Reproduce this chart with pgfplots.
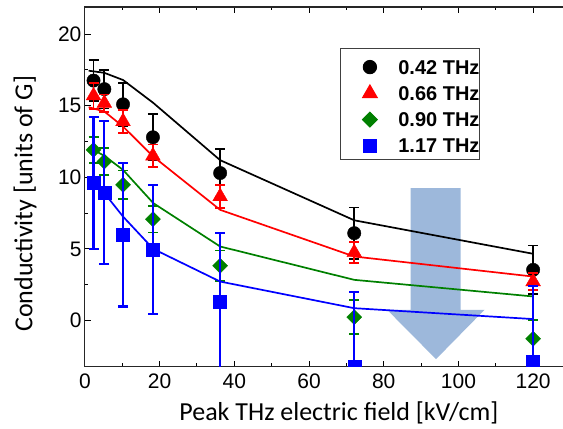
\documentclass[border=0pt]{standalone}
\usepackage{fontspec}
\setmainfont{Liberation Sans}
\newfontfamily\labelfont{Carlito}
\usepackage{pgfplots}
\usepackage{pgfplotstable}
\pgfplotsset{compat=1.18}
\usetikzlibrary{calc}
\definecolor{arrowblue}{HTML}{9DB8DB}
\definecolor{dgreen}{HTML}{008000}

% measured points: x, y, error
\pgfplotstableread{
x y e
2.3 16.76 1.45
5.2 16.16 1.35
10.2 15.10 1.50
18.2 12.80 1.60
36.2 10.30 1.70
72.1 6.10 1.80
120 3.54 1.70
}\dA
\pgfplotstableread{
x y e
2.3 15.70 0.90
5.2 15.18 0.60
10.2 13.90 0.80
18.2 11.50 0.80
36.2 8.66 0.80
72.1 4.75 0.75
120 2.72 0.60
}\dB
\pgfplotstableread{
x y e
2.3 11.92 0.90
5.2 11.10 0.93
10.2 9.48 1.00
18.2 7.08 0.93
36.2 3.82 1.07
72.1 0.24 1.20
120 -1.28 1.30
}\dC
\pgfplotstableread{
x y e
2.3 9.60 4.60
5.2 8.94 5.00
10.2 5.98 5.00
18.2 4.98 4.50
36.2 1.33 4.80
72.1 -3.20 5.20
120 -2.90 5.30
}\dD

% model curves
\pgfplotstableread{
x y
1.0 17.45
5.2 17.30
10.2 16.80
18.3 15.20
36.2 11.20
72.1 7.00
120 4.66
}\fA
\pgfplotstableread{
x y
1.0 14.90
5.2 14.60
10.2 13.55
18.3 11.45
36.2 7.73
72.1 4.47
120 3.07
}\fB
\pgfplotstableread{
x y
1.0 12.10
5.2 11.50
10.2 10.52
18.3 8.20
36.2 5.17
72.1 2.84
120 1.68
}\fC
\pgfplotstableread{
x y
2.3 9.55
5.2 8.90
10.2 7.26
18.3 5.00
36.2 2.72
72.1 0.86
120 0.10
}\fD

\begin{document}
\begin{tikzpicture}
\begin{axis}[
  name=ax, scale only axis, width=508.3bp, height=360bp,
  xmin=0, xmax=136, ymin=-3.23, ymax=21.9,
  xtick={0,20,...,120}, ytick={0,5,...,20},
  minor x tick num=1, minor y tick num=1,
  tick align=inside, xtick pos=both, ytick pos=left,
  major tick length=6bp, minor tick length=3.5bp,
  every tick/.style={black, line width=1bp},
  axis line style={line width=1.1bp, black!85},
  /pgf/number format/assume math mode=true,
  tick label style={font=\fontsize{21bp}{25bp}\selectfont},
  xticklabel style={yshift=-4bp},
  xlabel={Peak THz electric field [kV/cm]},
  ylabel={Conductivity [units of G]},
  label style={font=\labelfont\fontsize{26bp}{30bp}\selectfont},
  xlabel style={at={(rel axis cs:0.5,-0.149)}, anchor=base},
  ylabel style={at={(rel axis cs:-0.1033,0.4528)}, anchor=base},
  clip marker paths=true,
  legend style={at={(axis cs:68.3,19.06)}, anchor=north west,
    draw=black!75, line width=0.9bp, fill=white,
    inner xsep=0bp, inner ysep=6.5bp, row sep=6.3bp, column sep=21bp,
    font=\bfseries\fontsize{20bp}{24bp}\selectfont,
    cells={anchor=base west},
    nodes={inner sep=0bp, text height=19.5bp, text depth=0bp}},
  legend image code/.code={\path (0bp,0bp) (36bp,0bp);
    \draw[#1] plot coordinates {(29bp,7bp)};},
]
\fill[arrowblue] (axis cs:87.2,9.25) -- (axis cs:100.6,9.25) -- (axis cs:100.6,0.75)
  -- (axis cs:107.0,0.75) -- (axis cs:94.0,-2.7) -- (axis cs:80.9,0.75)
  -- (axis cs:87.2,0.75) -- cycle;

\addplot[black, line width=1.7bp, forget plot] table {\fA};
\addplot[black, only marks, mark=*, mark size=6.7bp,
  error bars/.cd, y dir=both, y explicit,
  error bar style={line width=1.8bp},
  error mark options={rotate=90, mark size=5bp, line width=1.8bp}]
  table[x=x, y=y, y error=e] {\dA};
\addlegendentry{0.42 THz}

\addplot[red, line width=1.7bp, forget plot] table {\fB};
\addplot[red, only marks, mark=triangle*, mark size=8.5bp,
  error bars/.cd, y dir=both, y explicit,
  error bar style={line width=1.8bp},
  error mark options={rotate=90, mark size=5bp, line width=1.8bp}]
  table[x=x, y=y, y error=e] {\dB};
\addlegendentry{0.66 THz}

\addplot[dgreen, line width=1.7bp, forget plot] table {\fC};
\addplot[dgreen, only marks, mark=square*, mark size=5.3bp,
  mark options={rotate=45},
  error bars/.cd, y dir=both, y explicit,
  error bar style={line width=1.8bp},
  error mark options={rotate=90, mark size=5bp, line width=1.8bp}]
  table[x=x, y=y, y error=e] {\dC};
\addlegendentry{0.90 THz}

\addplot[blue, line width=1.7bp, forget plot] table {\fD};
\addplot[blue, only marks, mark=square*, mark size=6.5bp,
  error bars/.cd, y dir=both, y explicit,
  error bar style={line width=2.2bp},
  error mark options={rotate=90, mark size=5bp, line width=2.2bp}]
  table[x=x, y=y, y error=e] {\dD};
\addlegendentry{1.17 THz}
\end{axis}
\pgfresetboundingbox
\useasboundingbox ($(ax.south west)+(-85bp,-62bp)$) rectangle ($(ax.south west)+(478.4bp,367bp)$);
\end{tikzpicture}
\end{document}
